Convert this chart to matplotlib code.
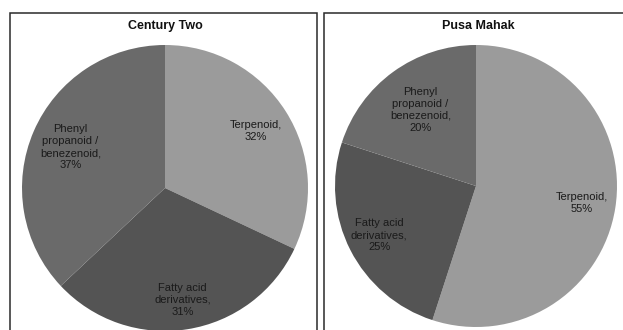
import numpy as np
import matplotlib.pyplot as plt
from matplotlib.patches import Rectangle

plt.rcParams['font.family'] = ['Liberation Sans', 'DejaVu Sans']

# Volatile compound classes (share of total, %)
classes = ["Terpenoid", "Fatty acid\nderivatives", "Phenyl\npropanoid /\nbenezenoid"]
century_two = [32, 31, 37]
pusa_mahak = [55, 25, 20]
colours = ["#9b9b9b", "#545454", "#6a6a6a"]

W, H = 623, 330
fig = plt.figure(figsize=(W / 100, H / 100), dpi=100)


def px_axes(cx, cy, r):
    # axes whose data range -1..1 maps onto a circle of radius r px at (cx, cy)
    return fig.add_axes([(cx - r) / W, (H - cy - r) / H, 2 * r / W, 2 * r / H])


def draw_pie(ax, values, dists):
    wedges, _ = ax.pie(values, colors=colours, startangle=90, counterclock=False,
                       radius=1.0, wedgeprops=dict(linewidth=0))
    for w, name, v, d in zip(wedges, classes, values, dists):
        ang = np.deg2rad((w.theta1 + w.theta2) / 2)
        ax.text(d * np.cos(ang), d * np.sin(ang), f"{name},\n{v}%",
                ha="center", va="center", fontsize=8, linespacing=1.25,
                color="#1a1a1a")
    ax.set_xlim(-1, 1)
    ax.set_ylim(-1, 1)
    ax.set_aspect("equal")
    ax.axis("off")


# panel frames
for x0, x1 in [(9.5, 316.5), (324, 640)]:
    fig.patches.append(Rectangle((x0 / W, -0.1), (x1 - x0) / W, (H - 13) / H + 0.1,
                                 transform=fig.transFigure, fill=False,
                                 edgecolor="#2a2a2a", linewidth=1.1))

ax1 = px_axes(165, 188, 143)
draw_pie(ax1, century_two, [0.75, 0.79, 0.72])
ax2 = px_axes(476, 186, 141)
draw_pie(ax2, pusa_mahak, [0.76, 0.77, 0.67])

fig.text(165 / W, 1 - 26 / H, "Century Two", ha="center", va="center",
         fontsize=9, fontweight="bold", color="#111111")
fig.text(478 / W, 1 - 26 / H, "Pusa Mahak", ha="center", va="center",
         fontsize=9, fontweight="bold", color="#111111")

fig.savefig("out.png", dpi=100)
